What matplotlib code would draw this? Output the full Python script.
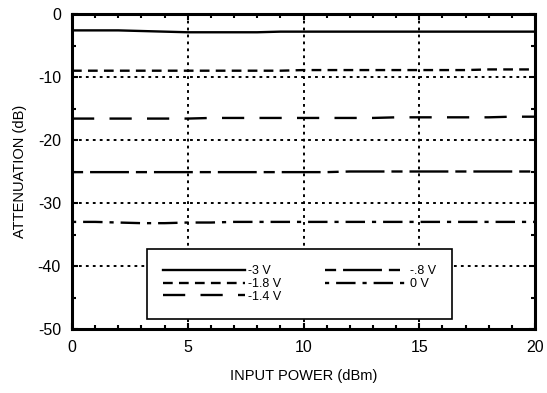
import matplotlib
matplotlib.use("Agg")
import matplotlib.pyplot as plt
from matplotlib.ticker import MultipleLocator

plt.rcParams['font.family'] = ['Liberation Sans', 'DejaVu Sans']
plt.rcParams['lines.scale_dashes'] = False
plt.rcParams['axes.unicode_minus'] = False

# input power (dBm)
power = [0, 1, 2, 3, 4, 5, 6, 7, 8, 9, 10, 11, 12, 13, 14, 15, 16, 17, 18, 19, 20]

# attenuation (dB) for each control voltage
att_m3v = [-2.6, -2.6, -2.6, -2.7, -2.8, -2.9, -2.9, -2.9, -2.9, -2.8, -2.8,
           -2.8, -2.8, -2.8, -2.8, -2.8, -2.8, -2.8, -2.8, -2.8, -2.8]
att_m18v = [-9.0, -9.0, -9.0, -9.0, -9.0, -9.0, -9.0, -9.0, -9.0, -9.0, -8.9,
            -8.9, -8.9, -8.9, -8.9, -8.9, -8.9, -8.9, -8.8, -8.8, -8.8]
att_m14v = [-16.6, -16.6, -16.6, -16.6, -16.6, -16.6, -16.5, -16.5, -16.5, -16.5, -16.5,
            -16.5, -16.5, -16.5, -16.4, -16.4, -16.4, -16.4, -16.4, -16.3, -16.3]
att_m08v = [-25.1, -25.1, -25.1, -25.1, -25.1, -25.1, -25.1, -25.1, -25.1, -25.1, -25.1,
            -25.1, -25.0, -25.0, -25.0, -25.0, -25.0, -25.0, -25.0, -25.0, -25.0]
att_0v = [-33.0, -33.0, -33.1, -33.2, -33.2, -33.1, -33.1, -33.0, -33.0, -33.0, -33.0,
          -33.0, -33.0, -33.0, -33.0, -33.0, -33.0, -33.0, -33.0, -33.0, -33.0]

labels = ["-3 V", "-1.8 V", "-1.4 V", "-.8 V", "0 V"]

fig = plt.figure(figsize=(5.47, 3.93), dpi=100)
ax = fig.add_axes([72/547, 1 - 329/393, 463/547, 315/393])

lw = 1.7
l1, = ax.plot(power, att_m3v, color="black", linewidth=lw, linestyle="-")
l2, = ax.plot(power, att_m18v, color="black", linewidth=lw, dashes=(7, 4.5))
l3, = ax.plot(power, att_m14v, color="black", linewidth=lw, dashes=(16, 11))
l4, = ax.plot(power, att_m08v, color="black", linewidth=lw, dashes=(8, 5, 28, 5))
l5, = ax.plot(power, att_0v, color="black", linewidth=lw, dashes=(3, 5, 14, 5))

ax.set_xlim(0, 20)
ax.set_ylim(-50, 0)
ax.xaxis.set_major_locator(MultipleLocator(5))
ax.xaxis.set_minor_locator(MultipleLocator(1))
ax.yaxis.set_major_locator(MultipleLocator(10))
ax.yaxis.set_minor_locator(MultipleLocator(5))
ax.tick_params(which='both', direction='in', top=True, right=True, labelsize=11.5, pad=8)
ax.tick_params(which='major', length=4, width=1.5)
ax.tick_params(which='minor', length=3, width=1.5)
ax.grid(True, which='major', color='black', linestyle=(0, (2, 3)), linewidth=1.4)

for s in ax.spines.values():
    s.set_linewidth(2.2)

ax.set_xlabel("INPUT POWER (dBm)", fontsize=10.5, labelpad=10)
ax.set_ylabel("ATTENUATION (dB)", fontsize=10.5, labelpad=8)

leg = ax.legend([l1, l2, l3, l4, l5], labels, ncol=2, fontsize=9,
                loc='lower left', bbox_to_anchor=(0.162, 0.032, 0.659, 0.225),
                mode='expand', borderaxespad=0, handlelength=6.5, handletextpad=0.3,
                labelspacing=0.05, fancybox=False, framealpha=1, edgecolor='black',
                borderpad=1.3, columnspacing=1.0)
leg.get_frame().set_linewidth(1.2)

fig.savefig("out.png", dpi=100)
